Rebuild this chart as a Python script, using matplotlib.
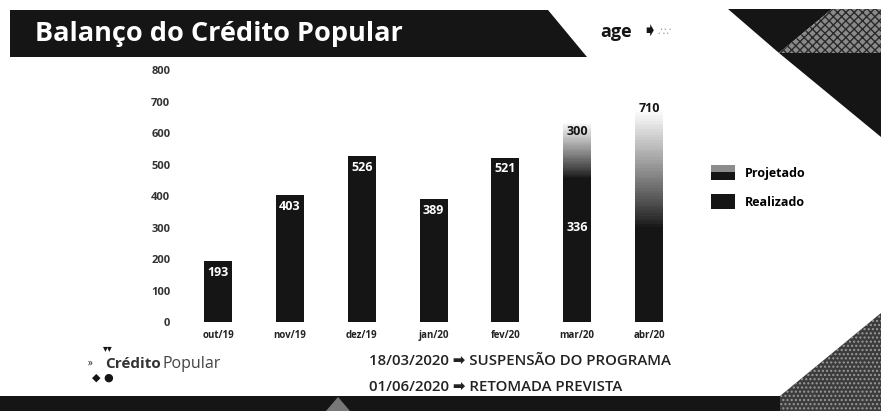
# -*- coding: utf-8 -*-
# Balanço do Crédito Popular - réplica do slide escaneado

import numpy as np
import matplotlib.pyplot as plt
from matplotlib.patches import Polygon, Rectangle, Patch
from matplotlib.legend_handler import HandlerPatch
from matplotlib.colors import LinearSegmentedColormap

# =========================
# DADOS
# =========================
meses = ["out/19", "nov/19", "dez/19", "jan/20", "fev/20", "mar/20", "abr/20"]
realizado = [193, 403, 526, 389, 521, 336, 0]
projetado = [0, 0, 0, 0, 0, 300, 710]
yticks = [0, 100, 200, 300, 400, 500, 600, 700, 800]

ESCURO = "#151515"
FONTE = ["Open Sans", "DejaVu Sans"]
plt.rcParams["font.family"] = FONTE

fig = plt.figure(figsize=(8.81, 4.11), dpi=100)
fig.patch.set_facecolor("white")

# =========================
# FUNDO DO SLIDE (coordenadas em pixels)
# =========================
bg = fig.add_axes([0, 0, 1, 1], zorder=0)
bg.set_xlim(0, 881)
bg.set_ylim(411, 0)
bg.axis("off")

# faixa do título
bg.add_patch(Polygon([(10, 10), (548, 10), (587, 57), (10, 57)], closed=True,
                     facecolor=ESCURO, edgecolor="none"))
bg.text(35, 34, "Balanço do Crédito Popular", color="white", fontsize=19.5,
        fontweight="bold", va="center", ha="left")

# logo age
bg.text(600, 32, "age", color=ESCURO, fontsize=13, fontweight="bold",
        va="center", ha="left")
bg.text(641, 31, "➧", color=ESCURO, fontsize=14, va="center", ha="left",
        family=["DejaVu Sans"])
bg.text(657, 32, "∴∵", color="#999999", fontsize=8, va="center", ha="left",
        family=["DejaVu Sans"])

# canto superior direito
bg.add_patch(Polygon([(728, 9), (832, 9), (779, 53)], closed=True,
                     facecolor=ESCURO, edgecolor="none"))
bg.add_patch(Polygon([(832, 9), (881, 9), (881, 53), (779, 53)], closed=True,
                     facecolor="#8a8a8a", edgecolor="#2a2a2a", hatch="xxxx",
                     linewidth=0))
bg.add_patch(Polygon([(779, 53), (881, 53), (881, 137)], closed=True,
                     facecolor=ESCURO, edgecolor="none"))

# faixa inferior
bg.add_patch(Rectangle((0, 396), 881, 15, facecolor=ESCURO, edgecolor="none"))
bg.add_patch(Polygon([(780, 396), (881, 313), (881, 411), (780, 411)], closed=True,
                     facecolor="#3c3c3c", edgecolor="#9a9a9a", hatch="....",
                     linewidth=0))
bg.add_patch(Polygon([(326, 411), (338, 397), (350, 411)], closed=True,
                     facecolor="#777777", edgecolor="none"))

# logo Crédito Popular
bg.text(105, 364, "Crédito", color="#333333", fontsize=11, fontweight="bold",
        va="center", ha="left")
bg.text(163, 364, "Popular", color="#444444", fontsize=11.5, va="center",
        ha="left")
bg.text(103, 348, "▾▾", color=ESCURO, fontsize=7, va="center", ha="left",
        family=["DejaVu Sans"])
bg.text(88, 363, "»", color=ESCURO, fontsize=7, va="center", ha="left")
bg.text(92, 378, "◆ ●", color=ESCURO, fontsize=8, va="center", ha="left",
        family=["DejaVu Sans"])

# notas
bg.text(369, 361, "18/03/2020 ➡ SUSPENSÃO DO PROGRAMA", color="#222222",
        fontsize=10.8, fontweight="semibold", va="center", ha="left",
        family=["Open Sans", "DejaVu Sans"])
bg.text(369, 387, "01/06/2020 ➡ RETOMADA PREVISTA", color="#222222",
        fontsize=10.8, fontweight="semibold", va="center", ha="left",
        family=["Open Sans", "DejaVu Sans"])

# =========================
# GRÁFICO DE BARRAS
# =========================
ax = fig.add_axes([180 / 881, 1 - 322 / 411, 510 / 881, 252 / 411], zorder=2)
ax.patch.set_alpha(0)
x = np.arange(len(meses))
largura = 0.39

ax.bar(x, realizado, width=largura, color=ESCURO, linewidth=0, zorder=2)

# projetado com degradê (fatias empilhadas)
cmap = LinearSegmentedColormap.from_list("grad", [ESCURO, "#ffffff"])
fade = {5: (0.40, 1.0), 6: (0.42, 0.95)}
n_fatias = 80
for i in range(len(meses)):
    if projetado[i] == 0:
        continue
    a, c = fade[i]
    passo = projetado[i] / n_fatias
    for k in range(n_fatias):
        t = (k + 0.5) / n_fatias
        g = np.clip((t - a) / (c - a), 0, 1) ** 0.9
        ax.bar(x[i], passo, width=largura, bottom=realizado[i] + k * passo,
               color=cmap(g), linewidth=0, antialiased=False, zorder=2)

# rótulos
for i in range(len(meses)):
    if realizado[i] > 0:
        ax.annotate(str(realizado[i]), (x[i], realizado[i]), xytext=(0, -8),
                    textcoords="offset points", ha="center", va="center",
                    color="white", fontsize=9, fontweight="bold", zorder=3)
    if projetado[i] > 0:
        topo = realizado[i] + projetado[i]
        ax.annotate(str(projetado[i]), (x[i], topo), xytext=(0, -7),
                    textcoords="offset points", ha="center", va="center",
                    color=ESCURO, fontsize=9, fontweight="bold", zorder=3)

ax.set_xlim(-0.53, 6.57)
ax.set_ylim(0, 800)
ax.set_xticks(x)
ax.set_xticklabels(meses, fontsize=7, fontweight="bold", color="#222222")
ax.set_yticks(yticks)
ax.set_yticklabels([str(v) for v in yticks], fontsize=8, fontweight="bold",
                   color="#333333")
ax.tick_params(axis="y", length=0, pad=7)
ax.tick_params(axis="x", length=0, pad=6)
for s in ax.spines.values():
    s.set_visible(False)


# legenda
class HandlerProjetado(HandlerPatch):
    def create_artists(self, legend, orig_handle, xdescent, ydescent,
                       width, height, fontsize, trans):
        baixo = Rectangle((-xdescent, -ydescent), width, height * 0.5,
                          facecolor=ESCURO, edgecolor="none", transform=trans)
        cima = Rectangle((-xdescent, -ydescent + height * 0.5), width, height * 0.5,
                         facecolor="#8c8c8c", edgecolor="none", transform=trans)
        return [baixo, cima]


h_proj = Patch(facecolor="#555555", label="Projetado")
h_real = Patch(facecolor=ESCURO, label="Realizado")
fig.legend(handles=[h_proj, h_real], labels=["Projetado", "Realizado"],
           handler_map={h_proj: HandlerProjetado()},
           loc="center left", bbox_to_anchor=(700 / 881, 1 - 187 / 411),
           frameon=False, prop={"weight": "bold", "size": 9},
           handlelength=1.9, handleheight=1.5, labelspacing=1.1,
           handletextpad=0.8)

fig.savefig("out.png", dpi=100)
